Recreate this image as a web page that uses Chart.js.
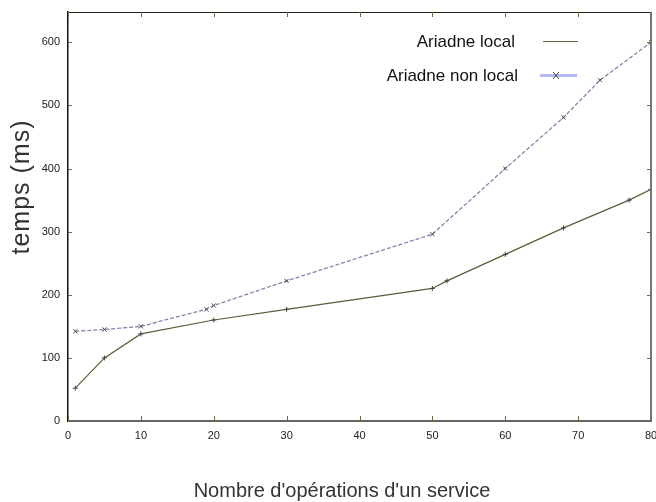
<!DOCTYPE html>
<html>
<head>
<meta charset="utf-8">
<script src="https://cdn.jsdelivr.net/npm/chart.js@4"></script>
<style>
  html, body { margin: 0; padding: 0; background: #fff; }
  #wrap { width: 656px; height: 502px; }
</style>
</head>
<body>
<div id="wrap"><canvas id="myChart" width="656" height="502"></canvas></div>
<script>
// values
var localX = [1, 5, 10, 20, 30, 50, 52, 60, 68, 77, 80];
var localY = [52, 100, 138, 160, 177, 210, 222, 264, 306, 350, 367];
var nonLocalX = [1, 5, 10, 19, 20, 30, 50, 60, 68, 73, 80];
var nonLocalY = [142, 145, 150, 177, 183, 222, 296, 400, 481, 540, 600];
var seriesNames = ["Ariadne local", "Ariadne non local"];
var xTitle = "Nombre d'opérations d'un service";
var yTitle = "temps (ms)";

function toPoints(xs, ys) {
  return xs.map(function (x, i) { return {x: x, y: ys[i]}; });
}

// box, inward ticks, titles and legend the way gnuplot draws them
var decor = {
  id: "decor",
  afterDraw: function (chart) {
    var ctx = chart.ctx, a = chart.chartArea;
    var xs = chart.scales.x, ys = chart.scales.y;
    ctx.save();
    // top and right border
    ctx.strokeStyle = "#222";
    ctx.lineWidth = 1;
    ctx.beginPath();
    ctx.moveTo(a.left, a.top + 0.5);
    ctx.lineTo(a.right, a.top + 0.5);
    ctx.stroke();
    ctx.strokeStyle = "#777";
    ctx.lineWidth = 2;
    ctx.beginPath();
    ctx.moveTo(a.right, a.top);
    ctx.lineTo(a.right, a.bottom);
    ctx.stroke();
    // inward ticks
    ctx.strokeStyle = "#6b6b45";
    ctx.lineWidth = 1;
    ctx.beginPath();
    xs.ticks.forEach(function (t) {
      var px = Math.round(xs.getPixelForValue(t.value)) + 0.5;
      ctx.moveTo(px, a.bottom); ctx.lineTo(px, a.bottom - 5);
      ctx.moveTo(px, a.top); ctx.lineTo(px, a.top + 5);
    });
    ys.ticks.forEach(function (t) {
      var py = Math.round(ys.getPixelForValue(t.value)) + 0.5;
      ctx.moveTo(a.left, py); ctx.lineTo(a.left + 4, py);
      ctx.moveTo(a.right, py); ctx.lineTo(a.right - 4, py);
    });
    ctx.stroke();
    // axis titles
    ctx.fillStyle = "#333";
    ctx.textAlign = "center";
    ctx.textBaseline = "middle";
    ctx.font = "20px 'Liberation Sans', Arial, sans-serif";
    ctx.fillText(xTitle, 342, 491);
    ctx.save();
    ctx.translate(22, 187);
    ctx.rotate(-Math.PI / 2);
    ctx.font = "25px 'Liberation Sans', Arial, sans-serif";
    ctx.letterSpacing = "1px";
    ctx.fillText(yTitle, 0, 0);
    ctx.restore();
    // legend, text on the left, sample on the right
    ctx.font = "17px 'Liberation Sans', Arial, sans-serif";
    ctx.textAlign = "right";
    ctx.fillStyle = "#111";
    ctx.fillText(seriesNames[0], 515, 42);
    ctx.fillText(seriesNames[1], 518, 76);
    ctx.strokeStyle = "#6b6b40";
    ctx.lineWidth = 1;
    ctx.beginPath();
    ctx.moveTo(543, 41.5); ctx.lineTo(578, 41.5);
    ctx.stroke();
    ctx.strokeStyle = "#b8b8f4";
    ctx.lineWidth = 3;
    ctx.beginPath();
    ctx.moveTo(540, 75.5); ctx.lineTo(577, 75.5);
    ctx.stroke();
    ctx.strokeStyle = "#444";
    ctx.lineWidth = 1;
    ctx.beginPath();
    ctx.moveTo(553, 72); ctx.lineTo(559, 79);
    ctx.moveTo(559, 72); ctx.lineTo(553, 79);
    ctx.stroke();
    ctx.restore();
  }
};

new Chart("myChart", {
  type: "line",
  data: {
    datasets: [{
      label: seriesNames[0],
      data: toPoints(localX, localY),
      borderColor: "#5c5c38",
      borderWidth: 1.2,
      pointStyle: "cross",
      pointRadius: 2.5,
      pointBorderColor: "#444",
      pointBorderWidth: 1,
      tension: 0
    }, {
      label: seriesNames[1],
      data: toPoints(nonLocalX, nonLocalY),
      borderColor: "#8484b0",
      borderWidth: 1.3,
      borderDash: [4, 2],
      pointStyle: "crossRot",
      pointRadius: 3,
      pointBorderColor: "#444",
      pointBorderWidth: 1,
      tension: 0
    }]
  },
  options: {
    responsive: false,
    animation: false,
    layout: {padding: {top: 12, right: 5, left: 0, bottom: 0}},
    plugins: {
      legend: {display: false},
      tooltip: {enabled: false}
    },
    scales: {
      x: {
        type: "linear",
        min: 0,
        max: 80,
        afterFit: function (s) { s.height = 81; s.paddingLeft = 0; s.paddingRight = 0; },
        ticks: {stepSize: 10, padding: 8, color: "#222",
          font: {family: "'Liberation Sans', Arial, sans-serif", size: 11}},
        grid: {drawOnChartArea: false, drawTicks: false},
        border: {color: "#666", width: 2}
      },
      y: {
        min: 0,
        max: 648,
        afterFit: function (s) { s.width = 68; s.paddingTop = 0; s.paddingBottom = 0; },
        ticks: {stepSize: 100, includeBounds: false, padding: 8, color: "#222",
          font: {family: "'Liberation Sans', Arial, sans-serif", size: 11}},
        grid: {drawOnChartArea: false, drawTicks: false},
        border: {color: "#111", width: 1.5}
      }
    }
  },
  plugins: [decor]
});
</script>
</body>
</html>
